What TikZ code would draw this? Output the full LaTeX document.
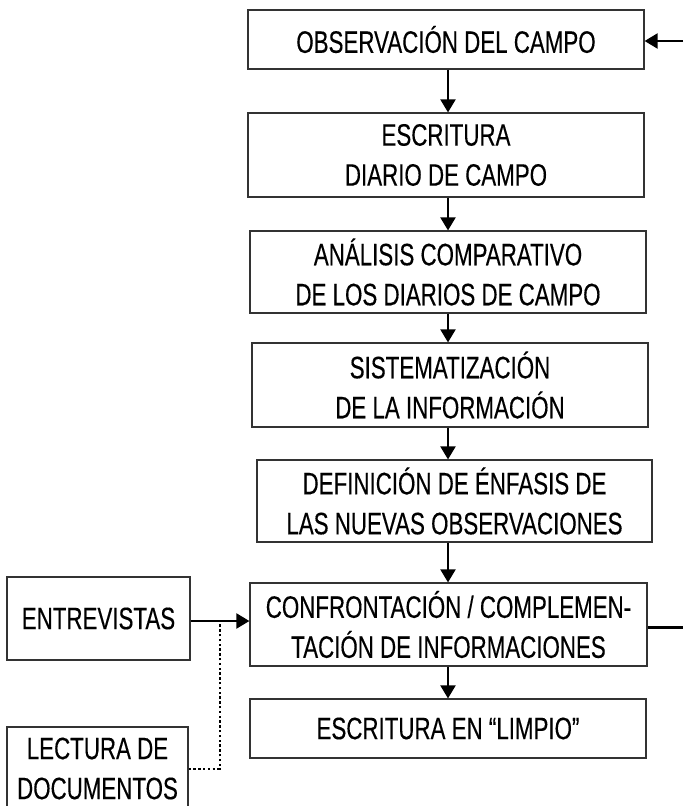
\documentclass[tikz,border=0pt]{standalone}
\usepackage{fontspec}
\setmainfont{Liberation Sans}[FakeStretch=0.72, FakeBold=0.3]
\usetikzlibrary{arrows.meta, positioning, calc}

\begin{document}
\begin{tikzpicture}[
    x=1pt, y=-1pt,
    stage/.style={
        rectangle, draw=black!80, line width=1.2pt,
        minimum width=396pt, minimum height=83pt,
        align=center, inner sep=0pt,
        font=\fontsize{31pt}{40pt}\selectfont,
    },
    source/.style={stage, minimum width=182pt},
    flow/.style={-{Triangle[length=13pt, width=15pt]}, line width=2.2pt},
    link/.style={line width=2.2pt},
    aux/.style={line width=2pt, dash pattern=on 2.4pt off 2.4pt},
]
\useasboundingbox (0, 0) rectangle (683, 806);

% MAIN SEQUENCE
\node[stage, minimum height=59pt] (obs) at (446, 39.5) {OBSERVACIÓN DEL CAMPO};
\node[stage, minimum height=84pt] (esc) at (446, 155) {ESCRITURA\\DIARIO DE CAMPO};
\node[stage, minimum height=82pt] (ana) at (448, 272) {ANÁLISIS COMPARATIVO\\DE LOS DIARIOS DE CAMPO};
\node[stage, minimum height=84pt] (sis) at (450, 385) {SISTEMATIZACIÓN\\DE LA INFORMACIÓN};
\node[stage, minimum width=395pt, minimum height=82pt] (def) at (454.5, 501) {DEFINICIÓN DE ÉNFASIS DE\\LAS NUEVAS OBSERVACIONES};
\node[stage, minimum width=397pt] (con) at (448.5, 624.5) {CONFRONTACIÓN / COMPLEMEN-\\TACIÓN DE INFORMACIONES};
\node[stage, minimum height=59pt] (lim) at (448, 728.5) {ESCRITURA EN “LIMPIO”};

\coordinate (spine) at (448, 0);
\draw[flow] (obs.south -| spine) -- (esc.north -| spine);
\draw[flow] (esc.south -| spine) -- (ana.north -| spine);
\draw[flow] (ana.south -| spine) -- (sis.north -| spine);
\draw[flow] (sis.south -| spine) -- (def.north -| spine);
\draw[flow] (def.south -| spine) -- (con.north -| spine);
\draw[flow] (con.south -| spine) -- (lim.north -| spine);

% FEEDBACK (right edge)
\coordinate (edge) at (683, 0);
\draw[link] ([yshift=-3pt]con.east) -- ([yshift=-3pt]con.east -| edge);
\draw[flow] ([yshift=-1.5pt]obs.east -| edge) -- ([yshift=-1.5pt]obs.east);

% SOURCES
\node[source, minimum width=183pt] (ent) at (98.5, 618.5) {ENTREVISTAS};
\node[source, minimum width=181pt] (lec) at (97.5, 768.5) {LECTURA DE\\DOCUMENTOS};

\draw[flow] ([yshift=-2.5pt]ent.east) -- ([yshift=-2.5pt]ent.east -| con.west);
\coordinate (tap) at ([xshift=29pt, yshift=-2.5pt]ent.east);
\draw[aux] (lec.east) -| (tap);

\end{tikzpicture}
\end{document}
